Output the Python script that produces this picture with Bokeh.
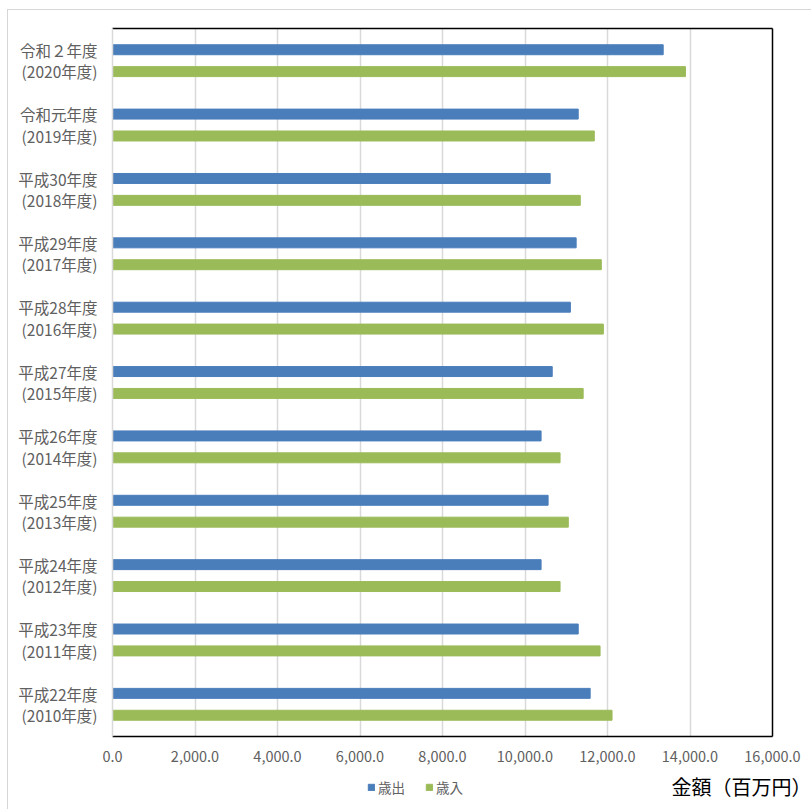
from bokeh.plotting import figure
from bokeh.layouts import column
from bokeh.models import (FactorRange, Range1d, LinearAxis, CategoricalAxis, Legend,
                          LegendItem, Title, NumeralTickFormatter,
                          FixedTicker, ColumnDataSource)
from bokeh.transform import dodge
from bokeh.embed import file_html
from bokeh.resources import INLINE

# Fiscal years, oldest first (bottom of the chart)
era_labels = ["平成22年度", "平成23年度", "平成24年度", "平成25年度", "平成26年度",
              "平成27年度", "平成28年度", "平成29年度", "平成30年度", "令和元年度",
              "令和２年度"]
year_labels = ["(2010年度)", "(2011年度)", "(2012年度)", "(2013年度)", "(2014年度)",
               "(2015年度)", "(2016年度)", "(2017年度)", "(2018年度)", "(2019年度)",
               "(2020年度)"]
# 歳出 / 歳入 in millions of yen
expenditure = [11580, 11290, 10390, 10560, 10390, 10660, 11100, 11240, 10610, 11290, 13350]
revenue = [12110, 11820, 10850, 11050, 10850, 11410, 11900, 11850, 11340, 11680, 13890]
series_names = ["歳出", "歳入"]
x_ticks = [0, 2000, 4000, 6000, 8000, 10000, 12000, 14000, 16000]
unit_label = "金額（百万円）"

categories = [f"{a}\n{b}" for a, b in zip(era_labels, year_labels)]
source = ColumnDataSource(dict(cat=categories, exp=expenditure, rev=revenue))

FONT = "Noto Sans CJK JP"
BLUE = "#4a7ebb"
GREEN = "#9bbb59"
GRID = "#d9d9d9"
TEXT = "#606060"
CHART_EDGE = {"margin-left": "7px", "border-left": "1px solid #d6d6d6"}

# ---- main bar chart ------------------------------------------------------
p = figure(frame_width=659, frame_height=707,
           min_border_left=104, min_border_right=40,
           min_border_top=18, min_border_bottom=10,
           y_range=FactorRange(factors=categories),
           x_range=Range1d(0, 16000),
           output_backend="svg", toolbar_location=None,
           x_axis_location=None, y_axis_location=None)
p.styles = dict(CHART_EDGE, **{"margin-top": "9px", "border-top": "1px solid #d6d6d6"})
p.outline_line_color = None
p.background_fill_color = "white"
p.border_fill_color = "white"

bar_h = 0.155
p.hbar(y=dodge("cat", 0.17, range=p.y_range), right="exp", left=0,
       height=bar_h, source=source, color=BLUE)
p.hbar(y=dodge("cat", -0.17, range=p.y_range), right="rev", left=0,
       height=bar_h, source=source, color=GREEN)

# value axis (bottom)
xaxis = LinearAxis(ticker=FixedTicker(ticks=x_ticks),
                   formatter=NumeralTickFormatter(format="0,0.0"))
xaxis.axis_line_color = "black"
xaxis.axis_line_width = 1.5
xaxis.major_tick_line_color = None
xaxis.minor_tick_line_color = None
xaxis.major_label_standoff = 8
xaxis.major_label_text_font = FONT
xaxis.major_label_text_font_size = "14.5px"
xaxis.major_label_text_color = TEXT
p.add_layout(xaxis, "below")

# category axis (left)
yaxis = CategoricalAxis()
yaxis.axis_line_color = GRID
yaxis.axis_line_width = 1.5
yaxis.major_tick_line_color = None
yaxis.minor_tick_line_color = None
yaxis.major_label_standoff = 9
yaxis.major_label_text_font = FONT
yaxis.major_label_text_font_size = "15.5px"
yaxis.major_label_text_color = TEXT
yaxis.major_label_text_line_height = 0.97
p.add_layout(yaxis, "left")

# plot-area border on top and right
top_axis = LinearAxis(ticker=FixedTicker(ticks=[]), major_label_text_font_size="0px",
                      axis_line_color="black", axis_line_width=1.5,
                      major_tick_line_color=None, minor_tick_line_color=None)
p.add_layout(top_axis, "above")
right_axis = CategoricalAxis(major_label_text_font_size="0px",
                             axis_line_color="black", axis_line_width=1.5,
                             major_tick_line_color=None, minor_tick_line_color=None)
p.add_layout(right_axis, "right")

p.xgrid.ticker = FixedTicker(ticks=x_ticks)
p.xgrid.grid_line_color = GRID
p.xgrid.grid_line_width = 1.5
p.ygrid.grid_line_color = None

# unit caption at the lower right
p.add_layout(Title(text=unit_label, align="right", offset=-39, standoff=11,
                   text_font=FONT, text_font_size="20px", text_font_style="normal",
                   text_color="black"), "below")

# ---- transparent strip over the caption row, carrying the legend -----------
foot = figure(width=803, height=50, min_border=0,
              x_range=Range1d(0, 803), y_range=Range1d(0, 50),
              output_backend="svg", toolbar_location=None,
              x_axis_location=None, y_axis_location=None)
foot.styles = dict(CHART_EDGE, **{"margin-top": "-42px"})
foot.outline_line_color = None
foot.grid.visible = False
foot.background_fill_alpha = 0
foot.border_fill_alpha = 0

# legend keys: one bar each, kept outside the visible strip
key_exp = foot.hbar(y=[-20], right=[1], left=0, height=1, color=BLUE)
key_rev = foot.hbar(y=[-20], right=[1], left=0, height=1, color=GREEN)

legend = Legend(items=[LegendItem(label=series_names[0], renderers=[key_exp]),
                       LegendItem(label=series_names[1], renderers=[key_rev])],
                orientation="horizontal", location=(255, 16),
                glyph_width=8, glyph_height=8, label_standoff=3, spacing=20,
                label_text_font=FONT, label_text_font_size="13.5px",
                label_text_color=TEXT, border_line_color=None,
                background_fill_alpha=0, padding=0, margin=0)
foot.add_layout(legend)

layout = column(p, foot, spacing=0)
open("out.html", "w").write(file_html(layout, INLINE))
